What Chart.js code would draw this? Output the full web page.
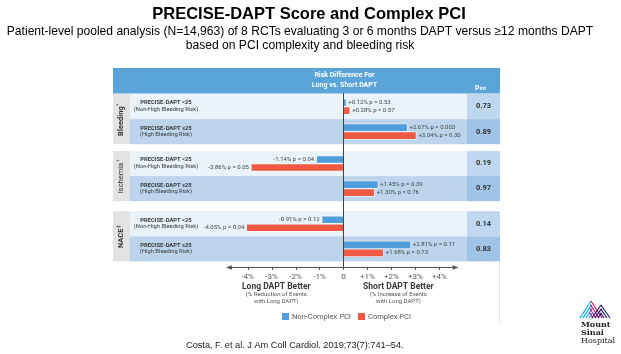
<!DOCTYPE html>
<html>
<head>
<meta charset="utf-8">
<script src="https://cdn.jsdelivr.net/npm/chart.js@4.4.0/dist/chart.umd.min.js"></script>
<style>
  body { margin: 0; background: #fff; }
  canvas { display: block; }
</style>
</head>
<body>
<canvas id="pciChart" width="621" height="354"></canvas>
<script>
var ctx = document.getElementById('pciChart').getContext('2d');

var groups = ['Bleeding', 'Ischemia', 'NACE'];
var groupMarks = ['*', '\u2020', '\u2021'];
var groupBold = [true, false, true];
var groupRows = [[0, 1], [2, 3], [4, 5]];
var scoreLabels = ['PRECISE-DAPT <25', 'PRECISE-DAPT \u226525', 'PRECISE-DAPT <25', 'PRECISE-DAPT \u226525', 'PRECISE-DAPT <25', 'PRECISE-DAPT \u226525'];
var riskLabels = ['(Non-High Bleeding Risk)', '(High Bleeding Risk)', '(Non-High Bleeding Risk)', '(High Bleeding Risk)', '(Non-High Bleeding Risk)', '(High Bleeding Risk)'];
var rowPos = [0, 1, 2.27, 3.27, 4.67, 5.67];
var nonComplex = [0.12, 2.67, -1.14, 1.45, -0.91, 2.81];
var complex = [0.28, 3.04, -3.86, 1.30, -4.05, 1.68];
var pNonComplex = ['0.53', '0.003', '0.04', '0.39', '0.12', '0.11'];
var pComplex = ['0.57', '0.30', '0.05', '0.76', '0.04', '0.73'];
var pInt = ['0.73', '0.89', '0.19', '0.97', '0.14', '0.83'];
var tickVals = [-4, -3, -2, -1, 0, 1, 2, 3, 4];
var tickLabels = ['-4%', '-3%', '-2%', '-1%', '0', '+1%', '+2%', '+3%', '+4%'];

var FONT = 'Roboto, "Open Sans", sans-serif';
var BLUE = '#4f9edb';
var RED = '#f05a44';

function fmt(v, p) {
    return (v > 0 ? '+' : '-') + Math.abs(v).toFixed(2) + '% p = ' + p;
}

function drawLogo(c) {
    c.save();
    c.lineWidth = 1.2;
    var i;
    // left peak
    for (i = 0; i < 4; i++) {
        c.strokeStyle = '#00aeef';
        c.beginPath();
        c.moveTo(580 + i * 3, 318);
        c.lineTo(580 + i * 3 + 11 * (1 - i * 0.22), 318 - 17 * (1 - i * 0.22));
        c.stroke();
        c.strokeStyle = '#d6127f';
        c.beginPath();
        c.moveTo(602 - i * 3, 318);
        c.lineTo(602 - i * 3 - 11 * (1 - i * 0.22), 318 - 17 * (1 - i * 0.22));
        c.stroke();
    }
    // right peak
    for (i = 0; i < 3; i++) {
        c.strokeStyle = '#221c6b';
        c.beginPath();
        c.moveTo(592 + i * 3, 318);
        c.lineTo(592 + i * 3 + 9 * (1 - i * 0.3), 318 - 13 * (1 - i * 0.3));
        c.stroke();
        c.beginPath();
        c.moveTo(610 - i * 3, 318);
        c.lineTo(610 - i * 3 - 9 * (1 - i * 0.3), 318 - 13 * (1 - i * 0.3));
        c.stroke();
    }
    c.fillStyle = '#222';
    c.textAlign = 'left';
    c.textBaseline = 'alphabetic';
    c.font = 'bold 8px "DejaVu Serif", "Liberation Serif", serif';
    c.fillText('Mount', 581, 327);
    c.fillText('Sinai', 581, 335);
    c.font = '8px "DejaVu Serif", "Liberation Serif", serif';
    c.fillText('Hospital', 581, 343);
    c.restore();
}

var figureDecor = {
    id: 'figureDecor',
    beforeDatasetsDraw: function(chart) {
        var c = chart.ctx, a = chart.chartArea, ys = chart.scales.y, xs = chart.scales.x;
        var stripL = a.left - 17, pR = a.right + 33;
        c.save();
        // header band
        c.fillStyle = '#5aa4da';
        c.fillRect(stripL, a.top - 26, pR - stripL, 25.5);
        c.fillStyle = '#fff';
        c.textAlign = 'center';
        c.textBaseline = 'middle';
        c.font = 'bold 7px ' + FONT;
        var x0 = xs.getPixelForValue(0) + 1;
        c.fillText('Risk Difference For', x0, a.top - 19);
        c.fillText('Long vs. Short DAPT', x0, a.top - 9);
        c.textAlign = 'left';
        c.font = 'bold 8px ' + FONT;
        c.fillText('p', a.right + 8, a.top - 7);
        c.font = 'bold 5px ' + FONT;
        c.fillText('int', a.right + 13, a.top - 5.5);

        // rows
        rowPos.forEach(function(p, i) {
            var t = ys.getPixelForValue(p - 0.5), b = ys.getPixelForValue(p + 0.5);
            c.fillStyle = i % 2 ? '#bcd5ed' : '#eaf2fa';
            c.fillRect(a.left, t, a.right - a.left, b - t);
            c.fillStyle = i % 2 ? '#9fc4e8' : '#bfd8ef';
            c.fillRect(a.right, t, pR - a.right, b - t);
            var m = (t + b) / 2;
            c.fillStyle = '#3a3a3a';
            c.textAlign = 'center';
            c.textBaseline = 'middle';
            c.font = 'bold 5.8px ' + FONT;
            c.fillText(scoreLabels[i], a.left + 36, m - 3.5);
            c.font = '5.8px ' + FONT;
            c.fillText(riskLabels[i], a.left + 36, m + 3);
            c.font = 'bold 7.5px ' + FONT;
            c.fillStyle = '#333';
            c.fillText(pInt[i], (a.right + pR) / 2, m);
        });

        // group strips
        groupRows.forEach(function(g, k) {
            var t = ys.getPixelForValue(rowPos[g[0]] - 0.5);
            var b = ys.getPixelForValue(rowPos[g[g.length - 1]] + 0.5);
            c.fillStyle = '#e3e3e3';
            c.fillRect(stripL, t, 17, b - t);
            c.save();
            c.translate(stripL + 8.5, (t + b) / 2);
            c.rotate(-Math.PI / 2);
            c.fillStyle = '#333';
            c.font = (groupBold[k] ? 'bold ' : '') + '7.5px ' + FONT;
            c.textAlign = 'center';
            c.textBaseline = 'middle';
            var w = c.measureText(groups[k]).width;
            c.fillText(groups[k], -2, 0);
            c.font = '5px ' + FONT;
            c.textAlign = 'left';
            c.fillText(groupMarks[k], -2 + w / 2 + 0.5, -2.5);
            c.restore();
        });
        c.restore();
    },
    afterDatasetsDraw: function(chart) {
        var c = chart.ctx, a = chart.chartArea, xs = chart.scales.x;
        c.save();
        // value labels
        var series = [[nonComplex, pNonComplex], [complex, pComplex]];
        c.font = '6px ' + FONT;
        c.fillStyle = '#444';
        c.textBaseline = 'middle';
        series.forEach(function(s, d) {
            var meta = chart.getDatasetMeta(d);
            s[0].forEach(function(v, i) {
                var bar = meta.data[i];
                if (v >= 0) {
                    c.textAlign = 'left';
                    c.fillText(fmt(v, s[1][i]), xs.getPixelForValue(v) + 2, bar.y);
                } else {
                    c.textAlign = 'right';
                    c.fillText(fmt(v, s[1][i]), xs.getPixelForValue(v) - 2, bar.y);
                }
            });
        });

        // zero line
        var zx = Math.round(xs.getPixelForValue(0)) + 0.5;
        var ay = Math.round(a.bottom) + 6.5;
        c.strokeStyle = '#444';
        c.lineWidth = 1;
        c.beginPath();
        c.moveTo(zx, a.top - 1);
        c.lineTo(zx, ay);
        c.stroke();

        // arrow axis
        var l = xs.getPixelForValue(-4.9), r = xs.getPixelForValue(4.8);
        c.strokeStyle = '#555';
        c.beginPath();
        c.moveTo(l + 3, ay);
        c.lineTo(r - 3, ay);
        tickVals.forEach(function(v) {
            var tx = Math.round(xs.getPixelForValue(v)) + 0.5;
            c.moveTo(tx, ay);
            c.lineTo(tx, ay + 2.5);
        });
        c.stroke();
        c.fillStyle = '#555';
        c.beginPath();
        c.moveTo(l, ay); c.lineTo(l + 6, ay - 2.2); c.lineTo(l + 6, ay + 2.2); c.closePath();
        c.moveTo(r, ay); c.lineTo(r - 6, ay - 2.2); c.lineTo(r - 6, ay + 2.2); c.closePath();
        c.fill();

        // captions under axis
        var lc = xs.getPixelForValue(-2.8), rc = xs.getPixelForValue(2.29);
        c.textAlign = 'center';
        c.fillStyle = '#3a3a3a';
        c.font = 'bold 8.5px ' + FONT;
        c.fillText('Long DAPT Better', lc, 286.5);
        c.fillText('Short DAPT Better', rc, 286.5);
        c.font = '6px ' + FONT;
        c.fillStyle = '#555';
        c.fillText('(% Reduction of Events', lc, 294.5);
        c.fillText('with Long DAPT)', lc, 301.5);
        c.fillText('(% Increase of Events', rc, 294.5);
        c.fillText('with Long DAPT)', rc, 301.5);

        // legend
        var lx = [282, 358];
        c.font = '7.5px ' + FONT;
        c.textAlign = 'left';
        chart.data.datasets.forEach(function(ds, d) {
            c.fillStyle = ds.backgroundColor;
            c.fillRect(lx[d], 313, 7, 7);
            c.fillStyle = '#555';
            c.fillText(ds.label, lx[d] + 10, 316.8);
        });

        // figure edge
        c.strokeStyle = '#e6e6e6';
        c.beginPath();
        c.moveTo(a.right + 32.5, a.bottom);
        c.lineTo(a.right + 32.5, 323.5);
        c.stroke();

        // titles
        c.fillStyle = '#000';
        c.textAlign = 'center';
        c.font = 'bold 16.5px "Liberation Sans", Arial, sans-serif';
        c.fillText('PRECISE-DAPT Score and Complex PCI', 309, 14);
        c.font = '12.1px "Liberation Sans", Arial, sans-serif';
        c.fillText('Patient-level pooled analysis (N=14,963) of 8 RCTs evaluating 3 or 6 months DAPT versus \u226512 months DAPT', 300, 31.5);
        c.fillText('based on PCI complexity and bleeding risk', 300, 45.5);
        c.textAlign = 'left';
        c.font = '9.2px "Liberation Sans", Arial, sans-serif';
        c.fillStyle = '#222';
        c.fillText('Costa, F. et al. J Am Coll Cardiol. 2019;73(7):741\u201354.', 186, 345);
        drawLogo(c);
        c.restore();
    }
};

var pciChart = new Chart(ctx, {
    type: 'bar',
    data: {
        datasets: [{
            label: 'Non-Complex PCI',
            data: rowPos.map(function(p, i) { return {x: nonComplex[i], y: p}; }),
            backgroundColor: BLUE,
            borderColor: 'rgba(255, 255, 255, 0.5)',
            borderWidth: 1,
            barThickness: 8
        }, {
            label: 'Complex PCI',
            data: rowPos.map(function(p, i) { return {x: complex[i], y: p}; }),
            backgroundColor: RED,
            borderColor: 'rgba(255, 255, 255, 0.5)',
            borderWidth: 1,
            barThickness: 8
        }]
    },
    options: {
        indexAxis: 'y',
        responsive: false,
        animation: false,
        layout: { padding: { left: 130, right: 154, top: 94, bottom: 62 } },
        plugins: { legend: { display: false }, tooltip: { enabled: false } },
        scales: {
            x: {
                type: 'linear',
                min: -8.9,
                max: 5.15,
                grid: { display: false, drawTicks: false },
                border: { display: false },
                afterBuildTicks: function(axis) {
                    axis.ticks = tickVals.map(function(v) { return {value: v}; });
                },
                ticks: {
                    autoSkip: false,
                    maxRotation: 0,
                    padding: 10.5,
                    color: '#555',
                    font: { family: FONT, size: 8 },
                    callback: function(v, i) { return tickLabels[i]; }
                }
            },
            y: { type: 'linear', display: false, offset: false, reverse: true, min: -0.5, max: 6.17 }
        }
    },
    plugins: [figureDecor]
});
</script>
</body>
</html>
